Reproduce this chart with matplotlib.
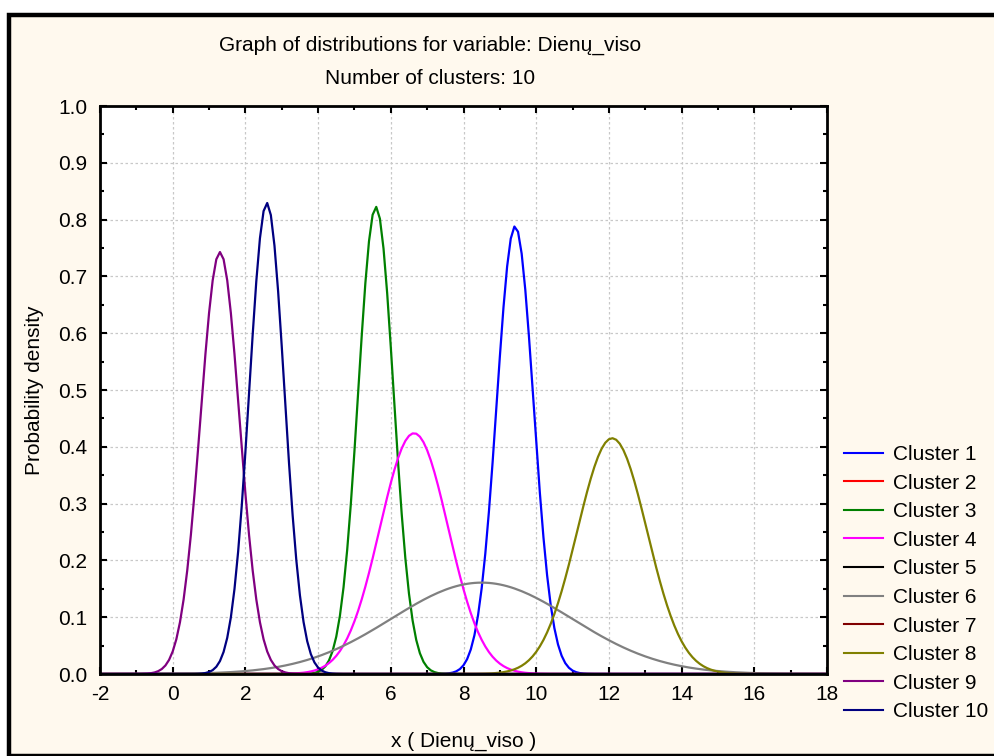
import numpy as np
import matplotlib
matplotlib.use("Agg")
import matplotlib.pyplot as plt
from matplotlib.patches import Rectangle
from matplotlib.ticker import MultipleLocator

plt.rcParams['font.family'] = ['Liberation Sans', 'DejaVu Sans']

# Data: normal distribution parameters (mean, std dev)
clusters = ["Cluster 1", "Cluster 2", "Cluster 3", "Cluster 4", "Cluster 5",
            "Cluster 6", "Cluster 7", "Cluster 8", "Cluster 9", "Cluster 10"]
means = [9.42, None, 5.59, 6.64, None, 8.50, None, 12.09, 1.30, 2.59]
sds = [0.506, None, 0.485, 0.941, None, 2.48, None, 0.961, 0.537, 0.481]
colors = ["#0000FF", "#FF0000", "#008000", "#FF00FF", "#000000",
          "#808080", "#800000", "#808000", "#800080", "#000080"]
xticks = [-2, 0, 2, 4, 6, 8, 10, 12, 14, 16, 18]
yticks = [0.0, 0.1, 0.2, 0.3, 0.4, 0.5, 0.6, 0.7, 0.8, 0.9, 1.0]

FS = 15
fig = plt.figure(figsize=(9.94, 7.56), dpi=100)
fig.patch.set_facecolor("#FFFFFF")
W, H = 994, 756
# cream background with thick black frame
fig.patches.append(Rectangle((8.5 / W, 0), 1.2, 1 - 14.5 / H, transform=fig.transFigure,
                             facecolor="#FFF9EE", edgecolor="black", linewidth=3.2, zorder=-10))

ax = fig.add_axes([100 / W, 1 - 674 / H, 727 / W, 568 / H])
ax.set_facecolor("white")

x = np.linspace(-2, 18, 201)
for name, m, s, c in zip(clusters, means, sds, colors):
    if m is None:
        y = np.zeros_like(x)
    else:
        y = np.exp(-0.5 * ((x - m) / s) ** 2) / (s * np.sqrt(2 * np.pi))
    ax.plot(x, y, color=c, lw=1.6, label=name, clip_on=True)

ax.set_xlim(-2, 18)
ax.set_ylim(0, 1.0)
ax.set_xticks(xticks)
ax.set_xticklabels([str(t) for t in xticks])
ax.set_yticks(yticks)
ax.set_yticklabels([f"{t:.1f}" for t in yticks])
ax.xaxis.set_minor_locator(MultipleLocator(1))
ax.yaxis.set_minor_locator(MultipleLocator(0.05))
ax.tick_params(which='both', direction='in', top=True, right=True, width=1.5, labelsize=FS)
ax.tick_params(which='major', length=5)
ax.tick_params(which='minor', length=3)
ax.tick_params(axis='x', pad=8)
ax.tick_params(axis='y', pad=9)
for sp in ax.spines.values():
    sp.set_linewidth(2)
ax.grid(True, which='major', color='#C8C8C8', linestyle=(0, (2, 2)), linewidth=0.9)
ax.set_axisbelow(True)

ax.set_xlabel("x ( Dienų_viso )", fontsize=FS, labelpad=20)
ax.set_ylabel("Probability density", fontsize=FS, labelpad=10)

fig.text(430 / W, 1 - 45 / H, "Graph of distributions for variable: Dienų_viso",
         ha='center', va='center', fontsize=FS)
fig.text(430 / W, 1 - 78 / H, "Number of clusters: 10",
         ha='center', va='center', fontsize=FS)

leg = fig.legend(loc='upper left', bbox_to_anchor=(844 / W, 1 - 445 / H), frameon=False,
                 fontsize=FS, handlelength=1.85, handletextpad=0.5, labelspacing=0.46,
                 borderaxespad=0, borderpad=0)
for ln in leg.get_lines():
    ln.set_linewidth(1.5)

fig.savefig("out.png", dpi=100, facecolor=fig.get_facecolor())
